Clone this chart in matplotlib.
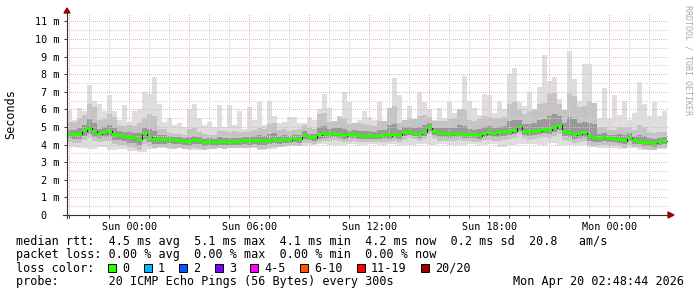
import numpy as np
import matplotlib
matplotlib.use("Agg")
import matplotlib.pyplot as plt
from matplotlib.lines import Line2D
from matplotlib.patches import Rectangle, Polygon

W, H = 697, 297
MONO = "DejaVu Sans Mono"

# time axis: hours relative to Sun 00:00, one bin = 15 min
t_start = -3.115
bin_h = 0.25

# median rtt per 15 min bin (ms)
median_ms = [
    4.60, 4.56, 4.60, 4.78, 4.93, 4.75, 4.60, 4.68, 4.75, 4.58,
    4.50, 4.45, 4.40, 4.38, 4.30, 4.62, 4.42, 4.30, 4.30, 4.30,
    4.28, 4.22, 4.22, 4.15, 4.18, 4.26, 4.22, 4.13, 4.15, 4.13,
    4.20, 4.15, 4.13, 4.15, 4.20, 4.22, 4.18, 4.25, 4.22, 4.20,
    4.25, 4.30, 4.24, 4.30, 4.28, 4.35, 4.30, 4.50, 4.42, 4.38,
    4.55, 4.62, 4.60, 4.65, 4.55, 4.50, 4.55, 4.60, 4.50, 4.48,
    4.50, 4.47, 4.52, 4.55, 4.50, 4.58, 4.52, 4.68, 4.70, 4.65,
    4.60, 4.70, 4.95, 4.72, 4.62, 4.62, 4.58, 4.62, 4.60, 4.55,
    4.60, 4.55, 4.50, 4.62, 4.68, 4.62, 4.70, 4.75, 4.72, 4.80,
    5.00, 4.75, 4.72, 4.75, 4.80, 4.88, 4.85, 4.95, 5.10, 4.75,
    4.68, 4.55, 4.62, 4.68, 4.45, 4.38, 4.35, 4.40, 4.32, 4.35,
    4.30, 4.22, 4.40, 4.25, 4.20, 4.12, 4.10, 4.08, 4.20, 4.22,
]

# slowest ping per 15 min bin (ms)
max_ms = [
    5.97, 5.40, 6.10, 5.90, 7.40, 6.50, 6.30, 5.90, 6.80, 5.90,
    5.40, 6.25, 5.30, 5.90, 6.00, 7.00, 6.90, 7.85, 6.30, 5.30,
    5.50, 5.10, 5.20, 5.00, 6.00, 6.30, 5.50, 5.10, 5.30, 5.00,
    6.25, 5.00, 6.25, 5.10, 5.90, 4.90, 6.15, 5.40, 6.40, 5.10,
    6.50, 5.60, 5.20, 5.30, 5.55, 5.55, 5.20, 5.20, 5.55, 5.40,
    6.00, 6.90, 6.10, 5.30, 5.60, 7.00, 6.40, 5.20, 5.40, 5.90,
    5.55, 5.40, 6.40, 5.30, 5.30, 7.80, 6.80, 5.40, 6.20, 5.40,
    7.00, 6.40, 6.00, 5.40, 6.10, 5.50, 6.50, 5.80, 5.80, 7.90,
    6.50, 6.10, 5.70, 6.90, 6.80, 5.80, 6.50, 6.00, 8.00, 8.35,
    6.40, 6.20, 7.00, 6.00, 7.30, 9.10, 7.60, 7.85, 6.60, 5.60,
    9.30, 7.70, 6.50, 8.60, 8.60, 5.40, 5.50, 7.20, 5.50, 6.80,
    5.70, 6.50, 5.40, 5.80, 7.55, 6.30, 5.60, 6.40, 5.60, 5.90,
]

# 30 min bins: fastest ping, and smoke spread around the median (ms)
min_ms = [
    3.85, 3.80, 3.75, 3.85, 3.70, 3.75, 3.65, 3.60, 3.75, 3.80,
    3.75, 3.80, 3.72, 3.70, 3.75, 3.80, 3.78, 3.82, 3.80, 3.70,
    3.75, 3.85, 3.90, 3.92, 4.00, 4.05, 4.00, 3.95, 4.05, 4.00,
    4.02, 3.95, 4.05, 4.00, 3.95, 4.05, 4.00, 4.05, 3.95, 4.00,
    4.05, 4.00, 4.05, 3.85, 4.00, 4.02, 4.05, 4.00, 4.10, 3.95,
    4.00, 3.95, 3.85, 3.80, 3.78, 3.75, 3.80, 3.72, 3.70, 3.75,
]
hi_outer = [
    0.7, 0.9, 1.4, 0.8, 1.0, 0.6, 0.7, 0.9, 1.3, 0.6,
    0.4, 0.4, 0.7, 0.5, 0.4, 0.6, 0.6, 0.5, 0.6, 0.7,
    0.9, 0.6, 0.5, 0.6, 0.5, 1.2, 0.7, 1.0, 0.6, 0.7,
    0.6, 0.8, 1.6, 0.7, 0.8, 1.0, 0.6, 0.7, 0.9, 1.4,
    0.8, 1.0, 0.9, 0.8, 1.6, 1.0, 1.2, 1.5, 2.0, 1.2,
    2.2, 1.5, 2.0, 0.6, 0.5, 0.7, 0.6, 0.9, 0.6, 0.5,
]
hi_inner = [
    0.25, 0.35, 0.50, 0.30, 0.35, 0.25, 0.30, 0.35, 0.45, 0.25,
    0.20, 0.20, 0.25, 0.20, 0.20, 0.25, 0.25, 0.20, 0.25, 0.30,
    0.35, 0.25, 0.20, 0.25, 0.20, 0.45, 0.30, 0.40, 0.25, 0.30,
    0.25, 0.30, 0.60, 0.30, 0.30, 0.40, 0.25, 0.30, 0.35, 0.50,
    0.30, 0.40, 0.35, 0.30, 0.60, 0.40, 0.45, 0.60, 0.80, 0.50,
    0.90, 0.60, 0.80, 0.25, 0.20, 0.30, 0.25, 0.35, 0.25, 0.20,
]
lo_outer = [
    0.45, 0.50, 0.55, 0.45, 0.55, 0.50, 0.55, 0.60, 0.50, 0.45,
    0.45, 0.40, 0.45, 0.45, 0.40, 0.40, 0.35, 0.40, 0.40, 0.45,
    0.45, 0.40, 0.35, 0.40, 0.35, 0.40, 0.40, 0.35, 0.40, 0.35,
    0.35, 0.40, 0.35, 0.40, 0.35, 0.40, 0.35, 0.40, 0.40, 0.35,
    0.40, 0.35, 0.40, 0.50, 0.40, 0.40, 0.45, 0.45, 0.45, 0.50,
    0.45, 0.50, 0.45, 0.40, 0.40, 0.40, 0.40, 0.35, 0.40, 0.40,
]
lo_inner = [
    0.25, 0.30, 0.30, 0.25, 0.30, 0.25, 0.30, 0.30, 0.25, 0.25,
    0.20, 0.20, 0.25, 0.20, 0.20, 0.20, 0.18, 0.20, 0.20, 0.22,
    0.22, 0.20, 0.18, 0.20, 0.18, 0.22, 0.20, 0.18, 0.20, 0.18,
    0.18, 0.20, 0.18, 0.20, 0.18, 0.20, 0.18, 0.20, 0.20, 0.18,
    0.20, 0.18, 0.20, 0.25, 0.20, 0.20, 0.22, 0.22, 0.25, 0.25,
    0.25, 0.25, 0.22, 0.20, 0.20, 0.20, 0.20, 0.18, 0.20, 0.20,
]

y_ticks = list(range(12))
y_labels = ["0  "] + ["%d m" % v for v in range(1, 12)]
x_ticks = [0, 6, 12, 18, 24]
x_labels = ["Sun 00:00", "Sun 06:00", "Sun 12:00", "Sun 18:00", "Mon 00:00"]

legend_rows = [
    "median rtt:  4.5 ms avg  5.1 ms max  4.1 ms min  4.2 ms now  0.2 ms sd  20.8   am/s",
    "packet loss: 0.00 % avg  0.00 % max  0.00 % min  0.00 % now",
    "loss color:",
    "probe:       20 ICMP Echo Pings (56 Bytes) every 300s",
]
loss_labels = ["0", "1", "2", "3", "4-5", "6-10", "11-19", "20/20"]
loss_colors = ["#26ff00", "#00b8ff", "#0059ff", "#7e00ff",
               "#ff00ff", "#ff5500", "#ff0000", "#a10000"]
stamp = "Mon Apr 20 02:48:44 2026"


def fx(x):
    return x / W


def fy(y):
    return 1 - y / H


px_per_ms = 17.6
px_per_h = 20.0

fig = plt.figure(figsize=(W / 100, H / 100), dpi=100)
fig.patch.set_facecolor("white")
ax = fig.add_axes([fx(67), fy(215), 601 / W, 201 / H])
ax.set_xlim(t_start, t_start + 601 / px_per_h)
ax.set_ylim(0, 201 / px_per_ms)
for s in ax.spines.values():
    s.set_visible(False)

med = np.array(median_ms)
n = len(med)
t = t_start + bin_h * np.arange(n + 1)


def ext(a):
    a = np.asarray(a, dtype=float)
    if len(a) != n:
        a = np.repeat(a, n // len(a))
    return np.append(a, a[-1])


m = ext(med)
band_specs = [
    (ext(min_ms), ext(max_ms), "#dedede"),
    (m - ext(lo_outer), m + ext(hi_outer), "#c4c4c4"),
    (m - ext(lo_inner), m + ext(hi_inner), "#999999"),
    (m - 0.08, m + 0.08, "#4a4a4a"),
]
for z, (lo, hi, col) in enumerate(band_specs):
    ax.fill_between(t, lo, hi, step="post", color=col, lw=0, zorder=1 + z * 0.1)

# grid (rrdtool draws it over the smoke), crisp 1px dots
for v in np.arange(0.5, 11.01, 0.5):
    major = float(v).is_integer()
    ax.axhline(v, color="#eab4b4" if major else "#d2d2d2", lw=0.72,
               ls=(0, (1, 1.6)), antialiased=False, zorder=2)
for h in range(-3, 27):
    ax.axvline(h, color="#eab4b4" if h % 3 == 0 else "#d2d2d2", lw=0.72,
               ls=(0, (1, 1.6)), antialiased=False, zorder=2)

# median: dark step line and a green band on top
ax.step(t, m, where="post", color="#202020", lw=0.8, zorder=3)
ax.fill_between(t, m - 0.085, m + 0.085, step="post", color=loss_colors[0],
                lw=0, zorder=3.1)

ax.set_yticks(y_ticks)
ax.set_yticklabels(y_labels, family=MONO, fontsize=7.3)
ax.set_xticks(x_ticks)
ax.set_xticklabels(x_labels, family=MONO, fontsize=7.3)
ax.set_xticks(range(-3, 27), minor=True)
ax.tick_params(axis="y", length=2, width=0.7, color="#333333", pad=3.6)
ax.tick_params(axis="x", which="both", length=2, width=0.7, color="#333333",
               pad=2.8)

# axes with arrows
fig.add_artist(Line2D([fx(67), fx(67)], [fy(218), fy(12)], color="#333333",
                      lw=0.8))
fig.add_artist(Line2D([fx(63), fx(669)], [fy(215), fy(215)], color="#333333",
                      lw=0.8))
fig.add_artist(Polygon([[fx(64), fy(13)], [fx(70), fy(13)], [fx(67), fy(8)]],
                       closed=True, color="#a00000"))
fig.add_artist(Polygon([[fx(668), fy(212)], [fx(668), fy(218)], [fx(674), fy(215)]],
                       closed=True, color="#a00000"))

fig.text(fx(11), fy(114), "Seconds", rotation=90, family=MONO, fontsize=8.5,
         ha="center", va="center")
fig.text(fx(688), fy(60), "RRDTOOL / TOBI OETIKER", rotation=270, family=MONO,
         fontsize=6, color="#aaaaaa", ha="center", va="center")

# legend block
adv = 7.1
baselines = [245, 258.3, 271.7, 285]
for row, yb in zip(legend_rows, baselines):
    fig.text(fx(16), fy(yb), row, family=MONO, fontsize=8.5, va="baseline")
fig.text(fx(513), fy(285), stamp, family=MONO, fontsize=8.5, va="baseline")

idx = 13
for lab, col in zip(loss_labels, loss_colors):
    x0 = 16 + idx * adv
    fig.add_artist(Rectangle((fx(x0), fy(272)), 8 / W, 8 / H, facecolor=col,
                             edgecolor="black", lw=0.7))
    fig.text(fx(16 + (idx + 2) * adv), fy(271.7), lab, family=MONO,
             fontsize=8.5, va="baseline")
    idx += len(lab) + 4

fig.savefig("out.png", dpi=100, facecolor="white")
